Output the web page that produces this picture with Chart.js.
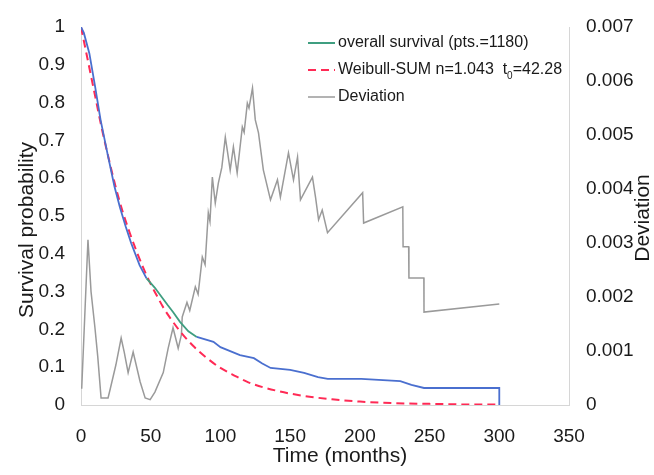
<!DOCTYPE html>
<html>
<head>
<meta charset="utf-8">
<script src="https://cdn.jsdelivr.net/npm/chart.js@4.4.0/dist/chart.umd.min.js"></script>
<style>
html,body{margin:0;padding:0;background:#fff;}
#wrap{position:relative;width:654px;height:475px;}
canvas{display:block;}
</style>
</head>
<body>
<div id="wrap"><canvas id="c" width="654" height="475"></canvas></div>
<script>
// ---- data ----
const xTicks = [0, 50, 100, 150, 200, 250, 300, 350];
const survTime = [0, 2, 6, 10, 14, 19, 24, 28, 32, 36, 42, 47, 53, 58, 62, 66, 71, 77, 83, 95, 100, 114, 124, 130, 136, 150, 160, 170, 177, 201, 229, 237, 246, 300, 300];
const survProb = [1, 0.985, 0.93, 0.845, 0.755, 0.665, 0.578, 0.522, 0.473, 0.428, 0.37, 0.335, 0.31, 0.285, 0.265, 0.246, 0.22, 0.195, 0.18, 0.167, 0.153, 0.132, 0.124, 0.11, 0.098, 0.093, 0.085, 0.074, 0.069, 0.069, 0.063, 0.053, 0.045, 0.045, 0];
const weibTime = [0, 5, 10, 15, 20, 25, 30, 35, 40, 45, 50, 55, 60, 65, 70, 80, 90, 100, 110, 120, 140, 160, 180, 200, 225, 250, 275, 300];
const weibProb = [1, 0.91, 0.82, 0.73, 0.65, 0.575, 0.51, 0.455, 0.405, 0.36, 0.32, 0.285, 0.252, 0.225, 0.2, 0.158, 0.125, 0.098, 0.078, 0.06, 0.038, 0.024, 0.015, 0.009, 0.005, 0.003, 0.0015, 0.001];
const devTime = [0.5, 5, 7.2, 10, 12, 14.4, 19.4, 21, 25, 28.8, 31, 33.8, 37.4, 39.5, 42.4, 46, 49.6, 53, 59, 62.5, 66, 69.7, 72, 72.6, 76, 78, 82, 84, 87, 89, 91.3, 92.5, 94.2, 96.3, 98.5, 101, 103.5, 105, 107, 109.3, 112, 115.7, 117, 119.3, 120.5, 123, 125, 127.3, 130.8, 135.9, 140.9, 143, 148.8, 152.4, 155.3, 157.4, 166, 168.2, 170.4, 173, 176.8, 202, 202.7, 230.8, 231, 235, 235.2, 245.9, 246, 300];
const devValue = [0.0003, 0.00306, 0.0021, 0.00143, 0.0009, 0.00013, 0.00013, 0.0003, 0.00074, 0.00124, 0.00098, 0.0006, 0.00098, 0.00075, 0.00043, 0.00013, 0.0001, 0.00024, 0.0006, 0.00105, 0.00143, 0.00105, 0.0013, 0.00163, 0.0019, 0.00175, 0.00219, 0.00205, 0.00274, 0.0026, 0.00356, 0.0034, 0.00422, 0.00374, 0.00411, 0.0044, 0.00496, 0.0047, 0.00435, 0.00478, 0.0043, 0.00515, 0.00505, 0.00559, 0.0055, 0.00587, 0.00528, 0.00504, 0.00435, 0.0038, 0.00417, 0.00385, 0.00467, 0.00417, 0.00459, 0.0038, 0.00422, 0.00385, 0.00343, 0.00361, 0.00319, 0.00393, 0.00337, 0.00367, 0.00293, 0.00293, 0.00235, 0.00235, 0.00172, 0.00187];
const leftTicks = [0, 0.1, 0.2, 0.3, 0.4, 0.5, 0.6, 0.7, 0.8, 0.9, 1];
const rightTicks = [0, 0.001, 0.002, 0.003, 0.004, 0.005, 0.006, 0.007];
const labels = ['overall survival (pts.=1180)', 'Weibull-SUM n=1.043  t', 'Deviation'];

const FONT = '"Liberation Sans", Arial, Helvetica, sans-serif';
const BLUE = '#4a6fcf';
const GREEN = '#3f9e80';
const RED = '#ff2a55';
const GRAY = '#9a9a9a';

const zip = (xs, ys) => xs.map((x, i) => ({x: x, y: ys[i]}));

const titlePlugin = {
  id: 'titles',
  afterDraw(chart) {
    const ctx = chart.ctx;
    ctx.save();
    ctx.fillStyle = '#1a1a1a';
    ctx.font = '21px ' + FONT;
    ctx.textAlign = 'center';
    ctx.textBaseline = 'middle';
    ctx.fillText('Time (months)', 340, 456);
    ctx.save();
    ctx.translate(27, 230);
    ctx.rotate(-Math.PI / 2);
    ctx.fillText('Survival probability', 0, 0);
    ctx.restore();
    ctx.save();
    ctx.translate(643, 218);
    ctx.rotate(-Math.PI / 2);
    ctx.fillText('Deviation', 0, 0);
    ctx.restore();

    // legend
    const lx0 = 308, lx1 = 335, tx = 338;
    const ys = [43, 70, 97];
    ctx.lineWidth = 2;
    ctx.strokeStyle = GREEN;
    ctx.beginPath(); ctx.moveTo(lx0, ys[0]); ctx.lineTo(lx1, ys[0]); ctx.stroke();
    ctx.strokeStyle = RED;
    ctx.setLineDash([8, 5]);
    ctx.beginPath(); ctx.moveTo(lx0, ys[1]); ctx.lineTo(lx1, ys[1]); ctx.stroke();
    ctx.setLineDash([]);
    ctx.strokeStyle = GRAY;
    ctx.lineWidth = 1.5;
    ctx.beginPath(); ctx.moveTo(lx0, ys[2]); ctx.lineTo(lx1, ys[2]); ctx.stroke();

    ctx.font = '16px ' + FONT;
    ctx.textAlign = 'left';
    ctx.fillStyle = '#1a1a1a';
    ctx.fillText(labels[0], tx, ys[0]);
    ctx.fillText(labels[1], tx, ys[1]);
    let w = ctx.measureText(labels[1]).width;
    ctx.font = '10px ' + FONT;
    ctx.fillText('0', tx + w, ys[1] + 6);
    const w2 = ctx.measureText('0').width;
    ctx.font = '16px ' + FONT;
    ctx.fillText('=42.28', tx + w + w2, ys[1]);
    ctx.fillText(labels[2], tx, ys[2]);
    ctx.restore();
  }
};

new Chart(document.getElementById('c'), {
  type: 'line',
  data: {
    datasets: [
      {
        label: labels[0],
        data: zip(survTime, survProb),
        borderColor: BLUE,
        borderWidth: 1.8,
        pointRadius: 0,
        tension: 0,
        yAxisID: 'y',
        segment: {
          borderColor: c => (c.p0.parsed.x >= 47 && c.p1.parsed.x <= 83) ? GREEN : BLUE
        }
      },
      {
        label: labels[1],
        data: zip(weibTime, weibProb),
        borderColor: RED,
        borderWidth: 2,
        borderDash: [8, 5],
        pointRadius: 0,
        cubicInterpolationMode: 'monotone',
        yAxisID: 'y'
      },
      {
        label: labels[2],
        data: zip(devTime, devValue),
        borderColor: GRAY,
        borderWidth: 1.5,
        pointRadius: 0,
        tension: 0,
        yAxisID: 'y2'
      }
    ]
  },
  options: {
    responsive: false,
    animation: false,
    events: [],
    layout: {padding: {top: 27, right: 0, bottom: 0, left: 0}},
    plugins: {legend: {display: false}, tooltip: {enabled: false}},
    scales: {
      x: {
        type: 'linear',
        min: xTicks[0], max: xTicks[xTicks.length - 1],
        afterBuildTicks: s => { s.ticks = xTicks.map(v => ({value: v})); },
        grid: {display: false},
        border: {display: true, color: '#d6d6d6', width: 1},
        ticks: {font: {family: FONT, size: 19}, color: '#1a1a1a', padding: 12, maxRotation: 0},
        afterFit: s => { s.height = 70; }
      },
      y: {
        position: 'left',
        min: 0, max: 1,
        afterBuildTicks: s => { s.ticks = leftTicks.map(v => ({value: v})); },
        grid: {display: false},
        border: {display: true, color: '#d6d6d6', width: 1},
        ticks: {
          font: {family: FONT, size: 19}, color: '#1a1a1a', padding: 8,
          callback: v => (v === 0 ? '0' : v === 1 ? '1' : v.toFixed(1))
        },
        afterFit: s => { s.width = 81; }
      },
      y2: {
        position: 'right',
        min: 0, max: 0.007,
        afterBuildTicks: s => { s.ticks = rightTicks.map(v => ({value: v})); },
        grid: {display: false},
        border: {display: true, color: '#d6d6d6', width: 1},
        ticks: {
          font: {family: FONT, size: 19}, color: '#1a1a1a', padding: 9,
          callback: v => (v === 0 ? '0' : v.toFixed(3))
        },
        afterFit: s => { s.width = 85; }
      }
    }
  },
  plugins: [titlePlugin]
});
</script>
</body>
</html>
